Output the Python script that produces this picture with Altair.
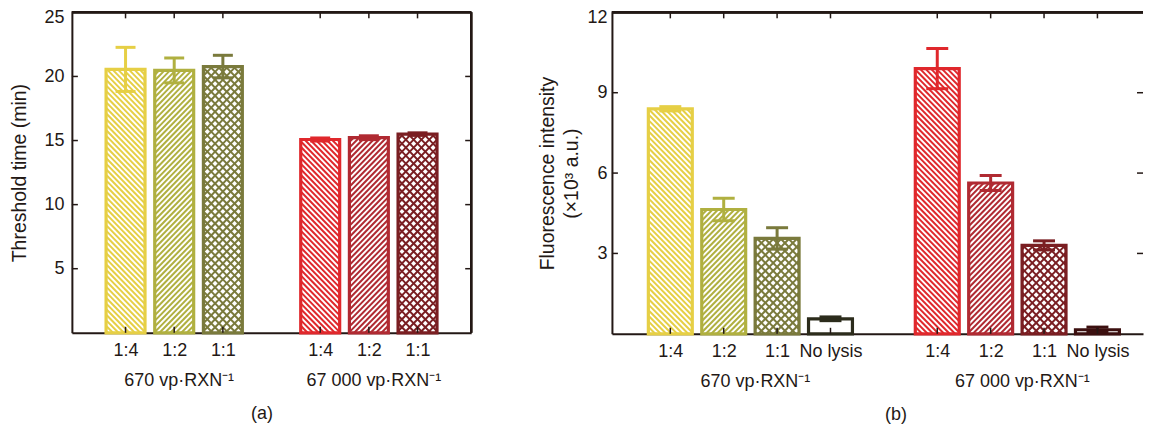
import altair as alt
import pandas as pd

# ---------------- data ----------------
group_names = ["670 vp·RXN⁻¹", "67 000 vp·RXN⁻¹"]

a_pos = [1, 2, 3, 5, 6, 7]
a_labels = ["1:4", "1:2", "1:1", "1:4", "1:2", "1:1"]
a_mean = [20.55, 20.47, 20.77, 15.08, 15.22, 15.5]
a_err = [1.72, 0.97, 0.88, 0.12, 0.15, 0.1]
a_colors = ["#e6cf45", "#b0b040", "#7a7a3c", "#e0282c", "#b02a32", "#7a1e22"]
a_hatch = ["back", "fwd", "cross", "back", "fwd", "cross"]
a_group_pos = [2, 6]
a_yticks = [5, 10, 15, 20, 25]

b_pos = [1, 2, 3, 4, 6, 7, 8, 9]
b_labels = ["1:4", "1:2", "1:1", "No lysis", "1:4", "1:2", "1:1", "No lysis"]
b_mean = [8.4, 4.64, 3.56, 0.56, 9.9, 5.63, 3.3, 0.15]
b_err = [0.08, 0.42, 0.4, 0.07, 0.75, 0.28, 0.17, 0.1]
b_colors = ["#e6cf45", "#b0b040", "#7a7a3c", "#2c2c1c",
            "#e0282c", "#b02a32", "#7a1e22", "#3c1010"]
b_hatch = ["back", "fwd", "cross", "none", "back", "fwd", "cross", "none"]
b_group_pos = [2.5, 7.5]
b_yticks = [3, 6, 9, 12]

INK = "#231815"
FONT = "Liberation Sans"
LABEL_FS = 18
TITLE_FS = 19.5

# ---------------- helpers ----------------
def label_expr(pos, labels):
    parts = [f"datum.value == {p} ? '{l}'" for p, l in zip(pos, labels)]
    return " : ".join(parts) + " : ''"


def hatch_rows(pos, mean, hatch, colors, ppx, ppy, bar_w):
    """diagonal hatch segments inside each bar, in data units"""
    rows = []
    hw = bar_w / 2.0
    styles = {
        "back": [(-1, 5.6, 2.0)],
        "fwd": [(1, 5.6, 2.0)],
        "cross": [(-1, 8.0, 2.0), (1, 8.0, 2.0)],
        "none": [],
    }
    for p, m, h, c in zip(pos, mean, hatch, colors):
        hp = m * ppy
        x0 = p * ppx - hw
        for s, per, lw in styles[h]:
            if s == 1:
                cc = -bar_w + 1.0
                while cc < hp:
                    lo, hi = max(0.0, -cc), min(bar_w, hp - cc)
                    if hi > lo:
                        rows.append(dict(x=(x0 + lo) / ppx, x2=(x0 + hi) / ppx,
                                         y=(lo + cc) / ppy, y2=(hi + cc) / ppy,
                                         color=c, lw=lw))
                    cc += per
            else:
                cc = 1.0
                while cc < bar_w + hp:
                    lo, hi = max(0.0, cc - hp), min(bar_w, cc)
                    if hi > lo:
                        rows.append(dict(x=(x0 + lo) / ppx, x2=(x0 + hi) / ppx,
                                         y=(cc - lo) / ppy, y2=(cc - hi) / ppy,
                                         color=c, lw=lw))
                    cc += per
    return pd.DataFrame(rows)


def panel(pos, labels, mean, err, colors, hatch, gpos, yticks,
          W, H, xmax, ymax, bar_w, cap_w, ytitle, xtitle, label_pad,
          ytitle_x, xtitle_x, right_frame):
    ppx = W / xmax
    ppy = H / ymax
    xs = alt.Scale(domain=[0, xmax], nice=False, zero=False)
    ys = alt.Scale(domain=[0, ymax], nice=False, zero=True)

    df = pd.DataFrame(dict(pos=pos, label=labels, mean=mean, err=err, color=colors))
    hd = hatch_rows(pos, mean, hatch, colors, ppx, ppy, bar_w)

    xaxis = alt.Axis(values=pos, labelExpr=label_expr(pos, labels), ticks=False,
                     domain=True, domainColor=INK, domainWidth=2, grid=False,
                     labelAngle=0, labelPadding=9, labelFontSize=LABEL_FS,
                     labelColor=INK, title=xtitle, titleFontSize=LABEL_FS,
                     titleFontWeight="normal", titleColor=INK,
                     titleX=xtitle_x, titleY=72, titleBaseline="top")
    yaxis = alt.Axis(values=yticks, ticks=False, domain=True, domainColor=INK,
                     domainWidth=2, grid=False, labelPadding=label_pad,
                     labelFontSize=LABEL_FS, labelColor=INK, labelFlush=True,
                     labelFlushOffset=4, title=ytitle, titleFontSize=TITLE_FS,
                     titleFontWeight="normal", titleColor=INK, titleLineHeight=25,
                     titleX=ytitle_x, titleY=H / 2, titleBaseline="middle",
                     titleAngle=270)

    def X(f):
        return alt.X(f, scale=xs, axis=xaxis)

    def Y(f):
        return alt.Y(f, scale=ys, axis=yaxis)

    hatch_layer = alt.Chart(hd).mark_rule().encode(
        x=X("x:Q"), x2="x2:Q",
        y=Y("y:Q"), y2="y2:Q",
        color=alt.Color("color:N", scale=None),
        strokeWidth=alt.StrokeWidth("lw:Q", scale=None),
    )
    bars = alt.Chart(df).mark_bar(width=bar_w, fillOpacity=0, strokeWidth=3.2).encode(
        x=X("pos:Q"),
        y=Y("mean:Q"),
        stroke=alt.Stroke("color:N", scale=None),
    )
    eb = alt.Chart(df).transform_calculate(
        lo="datum.mean - datum.err", hi="datum.mean + datum.err")
    stem = eb.mark_rule(strokeWidth=3).encode(
        x=X("pos:Q"), y=Y("lo:Q"), y2="hi:Q",
        color=alt.Color("color:N", scale=None))
    cap_hi = eb.mark_tick(orient="horizontal", size=cap_w, thickness=3, opacity=1).encode(
        x=X("pos:Q"), y=Y("hi:Q"),
        color=alt.Color("color:N", scale=None))
    cap_lo = eb.mark_tick(orient="horizontal", size=cap_w, thickness=3, opacity=1).encode(
        x=X("pos:Q"), y=Y("lo:Q"),
        color=alt.Color("color:N", scale=None))

    # inward frame ticks
    ytk = pd.DataFrame(dict(t=[v for v in yticks if v < ymax]))
    left_t = alt.Chart(ytk).mark_rule(color=INK, strokeWidth=1.5).encode(
        y=Y("t:Q"), x=alt.value(0), x2=alt.value(6))
    right_t = alt.Chart(ytk).mark_rule(color=INK, strokeWidth=1.5).encode(
        y=Y("t:Q"), x=alt.value(W - 6), x2=alt.value(W))
    top_t = alt.Chart(df).mark_rule(color=INK, strokeWidth=1.5).encode(
        x=X("pos:Q"), y=alt.value(0), y2=alt.value(6))
    bot_t = alt.Chart(df).mark_rule(color=INK, strokeWidth=1.5).encode(
        x=X("pos:Q"), y=alt.value(H), y2=alt.value(H - 6))
    top_line = alt.Chart(df).mark_rule(color=INK, strokeWidth=2).encode(
        x=alt.value(0), x2=alt.value(W), y=alt.value(0))
    layers = [hatch_layer, bars, stem, cap_hi, cap_lo, left_t, right_t, top_t, bot_t, top_line]
    if right_frame:
        layers.append(alt.Chart(df).mark_rule(color=INK, strokeWidth=2).encode(
            x=alt.value(W), y=alt.value(0), y2=alt.value(H)))

    gdf = pd.DataFrame(dict(gpos=gpos, name=group_names))
    glabels = alt.Chart(gdf).mark_text(fontSize=LABEL_FS, dx=5, baseline="middle",
                                       color=INK, font=FONT).encode(
        x=X("gpos:Q"), y=alt.value(H + 48), text="name:N")
    layers.append(glabels)

    return alt.layer(*layers).properties(width=W, height=H)


pa = panel(a_pos, a_labels, a_mean, a_err, a_colors, a_hatch, a_group_pos, a_yticks,
           W=400, H=321, xmax=8, ymax=25, bar_w=39, cap_w=20,
           ytitle="Threshold time (min)", xtitle="(a)", label_pad=8,
           ytitle_x=-52, xtitle_x=190, right_frame=True)
pb = panel(b_pos, b_labels, b_mean, b_err, b_colors, b_hatch, b_group_pos, b_yticks,
           W=532, H=322, xmax=9.76, ymax=12, bar_w=44, cap_w=22,
           ytitle=["Fluorescence intensity", "(×10³ a.u.)"], xtitle="(b)", label_pad=5,
           ytitle_x=-65, xtitle_x=284, right_frame=False)

chart = alt.hconcat(pa, pb, spacing=65).properties(
    padding={"left": 2, "top": 0, "right": 0, "bottom": 0}).configure(
    font=FONT).configure_view(stroke=None)

chart.save("out.html", embed_options={"renderer": "svg", "actions": False})
